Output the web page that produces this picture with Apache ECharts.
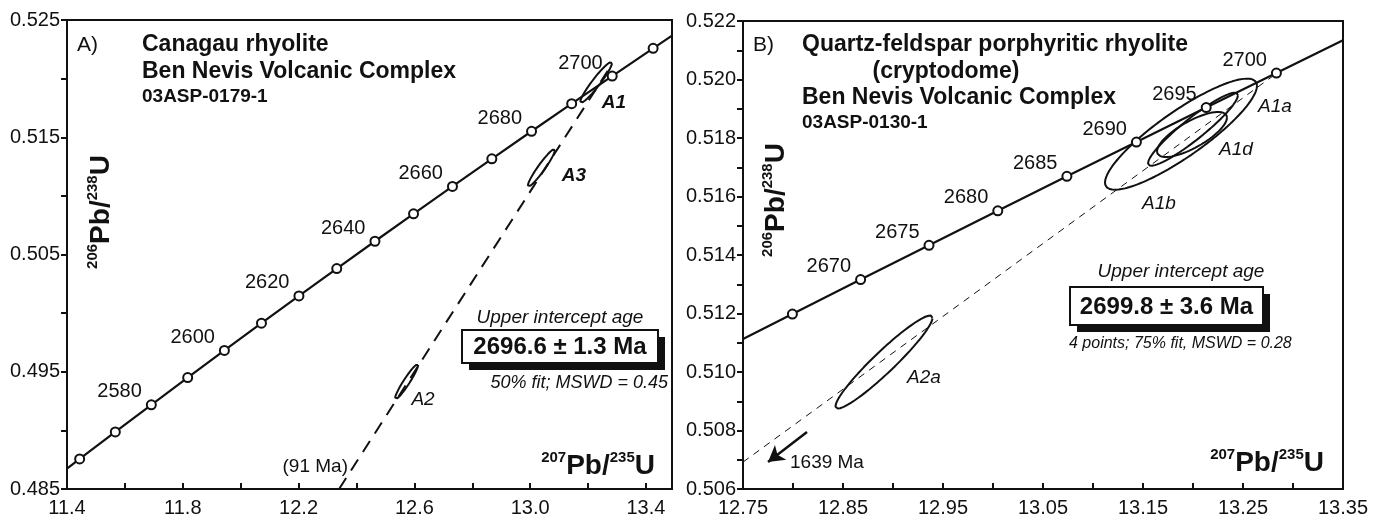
<!DOCTYPE html>
<html>
<head>
<meta charset="utf-8">
<script src="https://cdn.jsdelivr.net/npm/echarts@6/dist/echarts.min.js"></script>
<style>
  html, body { margin: 0; padding: 0; background: #fff; }
  #chart { width: 1387px; height: 527px; }
</style>
</head>
<body>
<div id="chart"></div>
<script>
// ---------------- Panel A: Canagau rhyolite (03ASP-0179-1) ----------------
// Concordia reference points (age in Ma) and their isotope ratios
const agesA      = [2560, 2570, 2580, 2590, 2600, 2610, 2620, 2630, 2640, 2650, 2660, 2670, 2680, 2690, 2700, 2710];
const pb207u235A = [11.4437, 11.5669, 11.6913, 11.8169, 11.9437, 12.0718, 12.2012, 12.3319, 12.4638, 12.5971, 12.7316, 12.8676, 13.0048, 13.1434, 13.2834, 13.4248];
const pb206u238A = [0.48756, 0.48987, 0.49218, 0.49450, 0.49682, 0.49914, 0.50147, 0.50380, 0.50613, 0.50847, 0.51081, 0.51316, 0.51551, 0.51786, 0.52022, 0.52258];
const labelledAgesA = [2580, 2600, 2620, 2640, 2660, 2680, 2700];
// concordia continues to the frame on both sides
const concordiaEndsA = [[11.40, 0.48674], [13.49, 0.52367]];
// discordia: from the 91 Ma lower intercept side up through the analyses
const discordiaA = [[12.340, 0.48500], [13.270, 0.52074]];
// error ellipses: name, centre, half-widths, correlation
const ellNamesA = ['A1', 'A3', 'A2'];
const ellXA     = [13.228, 13.039, 12.573];
const ellYA     = [0.51968, 0.51240, 0.49415];
const ellSxA    = [0.055, 0.047, 0.040];
const ellSyA    = [0.00175, 0.00160, 0.00150];
const ellRhoA   = [0.95, 0.95, 0.95];

// ---------------- Panel B: Quartz-feldspar porphyritic rhyolite (03ASP-0130-1) ----------------
const agesB      = [2665, 2670, 2675, 2680, 2685, 2690, 2695, 2700];
const pb207u235B = [12.7994, 12.8676, 12.9360, 13.0048, 13.0739, 13.1434, 13.2132, 13.2834];
const pb206u238B = [0.51198, 0.51316, 0.51433, 0.51551, 0.51669, 0.51786, 0.51904, 0.52022];
const labelledAgesB = [2670, 2675, 2680, 2685, 2690, 2695, 2700];
const concordiaEndsB = [[12.75, 0.51113], [13.35, 0.52134]];
// discordia towards the 1639 Ma lower intercept
const discordiaB = [[12.75, 0.50692], [13.282, 0.52017]];
const arrowB = [[12.814, 0.50795], [12.775, 0.50692]];
const ellNamesB = ['A1b', 'A1a', 'A1d', 'A2a'];
const ellXB     = [13.188, 13.200, 13.199, 12.891];
const ellYB     = [0.51813, 0.51830, 0.51812, 0.51034];
const ellSxB    = [0.076, 0.045, 0.035, 0.0485];
const ellSyB    = [0.00190, 0.00125, 0.00077, 0.00159];
const ellRhoB   = [0.87, 0.93, 0.75, 0.95];

// tick settings
const xTicksA = { min: 11.4, max: 13.49, step: 0.2, every: 2, dec: 1 };
const yTicksA = { min: 0.485, max: 0.525, step: 0.005, every: 2, dec: 3 };
const xTicksB = { min: 12.75, max: 13.35, step: 0.05, every: 2, dec: 2 };
const yTicksB = { min: 0.506, max: 0.522, step: 0.001, every: 2, dec: 3 };

const FONT = '"Liberation Sans", Arial, Helvetica, sans-serif';
const INK = '#111111';

const chart = echarts.init(document.getElementById('chart'));

function ellipseOutline(cx, cy, sx, sy, rho) {
  const pts = [];
  const k = Math.sqrt(1 - rho * rho);
  const n = 144;
  for (let i = 0; i <= n; i++) {
    const t = (i / n) * 2 * Math.PI;
    pts.push([cx + sx * Math.cos(t), cy + sy * (rho * Math.cos(t) + k * Math.sin(t))]);
  }
  return pts;
}

function tickFormatter(t) {
  return function (v) {
    const k = (v - t.min) / t.step;
    const r = Math.round(k);
    if (Math.abs(k - r) > 1e-6 || r % t.every !== 0) return '';
    return v.toFixed(t.dec);
  };
}

function valueAxis(t, gridIndex, isX) {
  return {
    type: 'value', gridIndex: gridIndex, min: t.min, max: t.max, interval: t.step,
    axisLine: { show: true, onZero: false, lineStyle: { color: INK, width: 2 } },
    axisTick: { show: true, inside: isX, length: 6, lineStyle: { color: INK, width: 2 } },
    axisLabel: {
      color: INK, fontSize: 20, fontFamily: FONT, margin: isX ? 9 : 7,
      showMaxLabel: true, showMinLabel: true, formatter: tickFormatter(t)
    },
    splitLine: { show: false }
  };
}

function concordiaSeries(idx, xs, ys, ages, labelled, ends) {
  const line = [ends[0]].concat(xs.map((x, i) => [x, ys[i]]), [ends[1]]);
  return [
    {
      type: 'line', xAxisIndex: idx, yAxisIndex: idx, data: line, showSymbol: false,
      lineStyle: { color: INK, width: 2.2 }, silent: true, z: 3, animation: false
    },
    {
      type: 'scatter', xAxisIndex: idx, yAxisIndex: idx, symbol: 'circle', symbolSize: 9,
      itemStyle: { color: '#ffffff', borderColor: INK, borderWidth: 2, opacity: 1 },
      z: 6, animation: false, silent: true,
      data: xs.map((x, i) => ({
        value: [x, ys[i]],
        label: {
          show: labelled.indexOf(ages[i]) >= 0, formatter: String(ages[i]),
          position: 'left', distance: 4, offset: [0, -13],
          color: INK, opacity: 1, fontSize: 20, fontFamily: FONT
        }
      }))
    }
  ];
}

function ellipseSeries(idx, xs, ys, sxs, sys, rhos) {
  return xs.map((x, i) => ({
    type: 'line', xAxisIndex: idx, yAxisIndex: idx, showSymbol: false, silent: true,
    animation: false, z: 4,
    data: ellipseOutline(x, ys[i], sxs[i], sys[i], rhos[i]),
    lineStyle: { color: INK, width: 2 }
  }));
}

const series = [].concat(
  concordiaSeries(0, pb207u235A, pb206u238A, agesA, labelledAgesA, concordiaEndsA),
  [{
    type: 'line', xAxisIndex: 0, yAxisIndex: 0, data: discordiaA, showSymbol: false,
    silent: true, animation: false, z: 2,
    lineStyle: { color: INK, width: 2, type: [13, 9] }
  }],
  ellipseSeries(0, ellXA, ellYA, ellSxA, ellSyA, ellRhoA),
  concordiaSeries(1, pb207u235B, pb206u238B, agesB, labelledAgesB, concordiaEndsB),
  [{
    type: 'line', xAxisIndex: 1, yAxisIndex: 1, data: discordiaB, showSymbol: false,
    silent: true, animation: false, z: 2,
    lineStyle: { color: INK, width: 1, type: [7, 6] }
  },
  {
    type: 'line', xAxisIndex: 1, yAxisIndex: 1, data: [], silent: true, animation: false,
    markLine: {
      silent: true, animation: false, symbol: ['none', 'arrow'], symbolSize: [14, 16],
      label: { show: false },
      lineStyle: { color: INK, width: 2.5, type: 'solid', opacity: 1 },
      data: [[{ coord: arrowB[0] }, { coord: arrowB[1] }]]
    }
  }],
  ellipseSeries(1, ellXB, ellYB, ellSxB, ellSyB, ellRhoB)
);

// text helpers for the annotations
function txt(x, y, text, opt) {
  opt = opt || {};
  return {
    type: 'text', x: x, y: y, rotation: opt.rotation || 0, z: 100, silent: true,
    style: {
      text: text, fill: INK,
      fontFamily: FONT, fontSize: opt.size || 20,
      fontWeight: opt.weight || 'normal', fontStyle: opt.style || 'normal',
      align: opt.align || 'left', textAlign: opt.align || 'left',
      verticalAlign: opt.valign || 'middle', textVerticalAlign: opt.valign || 'middle',
      rich: opt.rich
    }
  };
}
const ratioRich = {
  s: { fontSize: 15, fontWeight: 'bold', fontFamily: FONT, fill: INK, verticalAlign: 'top', lineHeight: 15 },
  b: { fontSize: 28, fontWeight: 'bold', fontFamily: FONT, fill: INK, verticalAlign: 'bottom', lineHeight: 30 }
};
function ageBox(x, y, w, h, label) {
  return [
    { type: 'rect', z: 98, silent: true, shape: { x: x + 7, y: y + 7, width: w, height: h }, style: { fill: INK } },
    { type: 'rect', z: 99, silent: true, shape: { x: x, y: y, width: w, height: h }, style: { fill: '#fff', stroke: INK, lineWidth: 2 } },
    txt(x + w / 2, y + h / 2 + 1, label, { size: 24, weight: 'bold', align: 'center' })
  ];
}

const graphics = [].concat(
  [
    txt(77, 45, 'A)', { size: 21 }),
    txt(142, 45, 'Canagau rhyolite', { size: 23, weight: 'bold' }),
    txt(142, 72, 'Ben Nevis Volcanic Complex', { size: 23, weight: 'bold' }),
    txt(142, 97, '03ASP-0179-1', { size: 19, weight: 'bold' }),
    txt(614, 103, 'A1', { size: 19, weight: 'bold', style: 'italic', align: 'center' }),
    txt(574, 176, 'A3', { size: 19, weight: 'bold', style: 'italic', align: 'center' }),
    txt(423, 400, 'A2', { size: 19, style: 'italic', align: 'center' }),
    txt(348, 467, '(91 Ma)', { size: 19, align: 'right' }),
    txt(560, 318, 'Upper intercept age', { size: 19, style: 'italic', align: 'center' }),
    txt(668, 383, '50% fit; MSWD = 0.45', { size: 18, style: 'italic', align: 'right' }),
    txt(655, 480, '{s|207}{b|Pb/}{s|235}{b|U}', { align: 'right', valign: 'bottom', rich: ratioRich }),
    txt(100, 212, '{s|206}{b|Pb/}{s|238}{b|U}', { align: 'center', rotation: Math.PI / 2, rich: ratioRich })
  ],
  ageBox(462, 330, 196, 33, '2696.6 ± 1.3 Ma'),
  [
    txt(753, 45, 'B)', { size: 21 }),
    txt(802, 45, 'Quartz-feldspar porphyritic rhyolite', { size: 23, weight: 'bold' }),
    txt(946, 72, '(cryptodome)', { size: 23, weight: 'bold', align: 'center' }),
    txt(802, 98, 'Ben Nevis Volcanic Complex', { size: 23, weight: 'bold' }),
    txt(802, 123, '03ASP-0130-1', { size: 19, weight: 'bold' }),
    txt(1275, 107, 'A1a', { size: 19, style: 'italic', align: 'center' }),
    txt(1236, 150, 'A1d', { size: 19, style: 'italic', align: 'center' }),
    txt(1159, 204, 'A1b', { size: 19, style: 'italic', align: 'center' }),
    txt(924, 378, 'A2a', { size: 19, style: 'italic', align: 'center' }),
    txt(790, 463, '1639 Ma', { size: 19 }),
    txt(1181, 272, 'Upper intercept age', { size: 19, style: 'italic', align: 'center' }),
    txt(1069, 344, '4 points; 75% fit, MSWD = 0.28', { size: 16, style: 'italic' }),
    txt(1324, 477, '{s|207}{b|Pb/}{s|235}{b|U}', { align: 'right', valign: 'bottom', rich: ratioRich }),
    txt(775, 200, '{s|206}{b|Pb/}{s|238}{b|U}', { align: 'center', rotation: Math.PI / 2, rich: ratioRich })
  ],
  ageBox(1070, 287, 193, 38, '2699.8 ± 3.6 Ma')
);

chart.setOption({
  animation: false,
  backgroundColor: '#fff',
  grid: [
    { left: 67, top: 20, width: 605, height: 469, show: true, borderColor: INK, borderWidth: 2, backgroundColor: 'transparent' },
    { left: 743, top: 21, width: 600, height: 468, show: true, borderColor: INK, borderWidth: 2, backgroundColor: 'transparent' }
  ],
  xAxis: [valueAxis(xTicksA, 0, true), valueAxis(xTicksB, 1, true)],
  yAxis: [valueAxis(yTicksA, 0, false), valueAxis(yTicksB, 1, false)],
  series: series,
  graphic: { elements: graphics }
});
</script>
</body>
</html>
